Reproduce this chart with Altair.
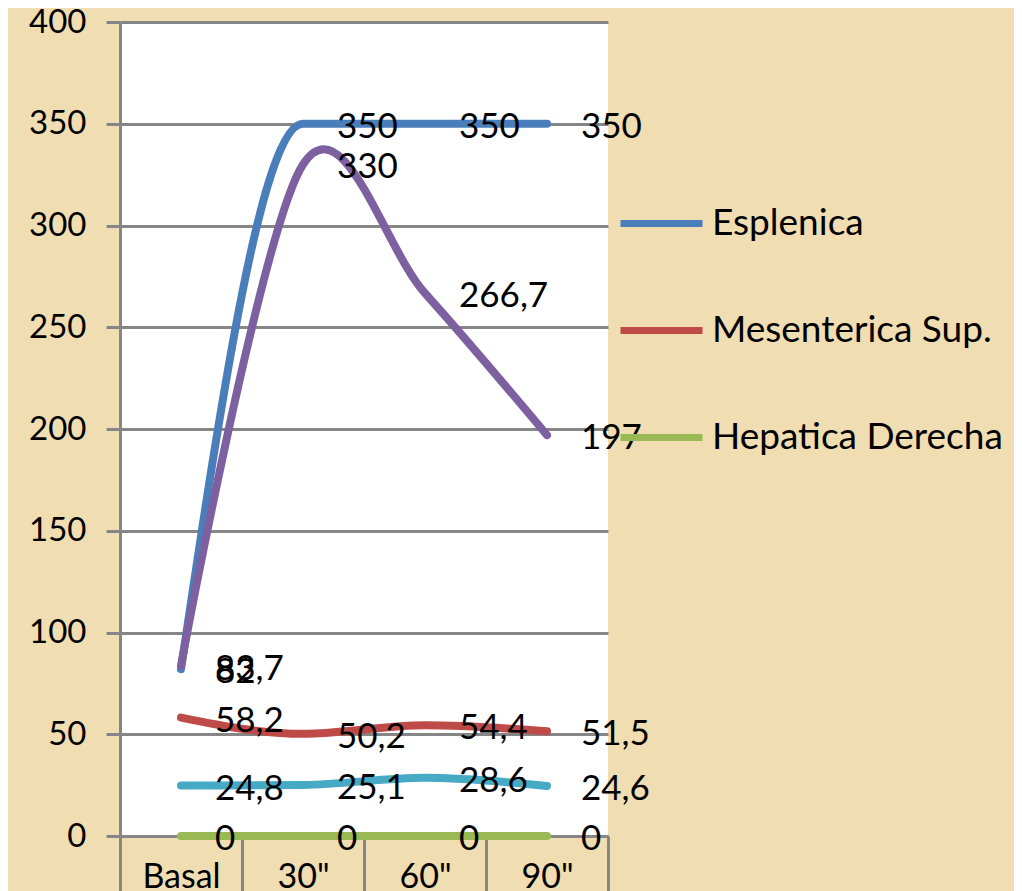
import altair as alt
import pandas as pd

categories = ["Basal", '30"', '60"', '90"']
series_names = ["Esplenica", "Mesenterica Sup.", "Hepatica Derecha", "Serie 4", "Serie 5"]
legend_names = ["Esplenica", "Mesenterica Sup.", "Hepatica Derecha"]
esplenica = [82, 350, 350, 350]
mesenterica = [58.2, 50.2, 54.4, 51.5]
hepatica = [0, 0, 0, 0]
serie4 = [83.7, 330, 266.7, 197]
serie5 = [24.8, 25.1, 28.6, 24.6]
colors = ["#4A7EBB", "#BE4B48", "#98B954", "#7D60A0", "#46AAC5"]

series_values = [esplenica, mesenterica, hepatica, serie4, serie5]
rows = []
for name, vals in zip(series_names, series_values):
    for cat, v in zip(categories, vals):
        rows.append({"cat": cat, "series": name, "value": v,
                     "label": f"{v:g}".replace(".", ",")})
df = pd.DataFrame(rows)

FONT = "Lato"
GRAY = "#868686"

x = alt.X("cat:N", sort=categories,
          scale=alt.Scale(type="band", paddingInner=0, paddingOuter=0),
          axis=alt.Axis(title=None, labelAngle=0, domain=True, domainColor=GRAY,
                        domainWidth=3, ticks=True, tickBand="extent", tickSize=60,
                        tickColor=GRAY, tickWidth=3, labelPadding=-36,
                        labelFont=FONT, labelFontSize=34, labelColor="black",
                        grid=False))
y = alt.Y("value:Q", scale=alt.Scale(domain=[0, 400], nice=False),
          axis=alt.Axis(title=None, values=list(range(0, 401, 50)), domain=True,
                        domainColor=GRAY, domainWidth=3, ticks=True, tickSize=14,
                        tickColor=GRAY, tickWidth=3, grid=True, gridColor=GRAY,
                        gridWidth=3, labelFont=FONT, labelFontSize=33,
                        labelColor="black", labelPadding=20))
color = alt.Color("series:N",
                  scale=alt.Scale(domain=series_names, range=colors),
                  legend=alt.Legend(values=legend_names, title=None, orient="none",
                                    legendX=497, legendY=157, symbolType="stroke",
                                    symbolSize=6724, symbolStrokeWidth=7,
                                    labelFont=FONT, labelFontSize=37,
                                    labelColor="black", rowPadding=44,
                                    labelOffset=6, labelLimit=400))

base = alt.Chart(df)
main = base.transform_filter(alt.datum.series != "Serie 4").mark_line(
    interpolate="monotone", strokeWidth=8, strokeCap="round", strokeJoin="round"
).encode(x=x, y=y, color=color)
purple = base.transform_filter(alt.datum.series == "Serie 4").mark_line(
    interpolate="cardinal", strokeWidth=8, strokeCap="round", strokeJoin="round"
).encode(x=x, y=y, color=color)
labels = base.mark_text(align="left", baseline="middle", dx=34, dy=3, font=FONT,
                        fontSize=35, color="black").encode(x=x, y=y, text="label:N")

chart = alt.layer(main, purple, labels).properties(
    width=488, height=814,
    autosize=alt.AutoSizeParams(type="none"),
    padding={"left": 112, "top": 14, "right": 406, "bottom": 55},
    background="#F0DDB1",
).configure_view(fill="white", stroke=None)

chart.save("out.html", embed_options={"renderer": "svg", "actions": False})
